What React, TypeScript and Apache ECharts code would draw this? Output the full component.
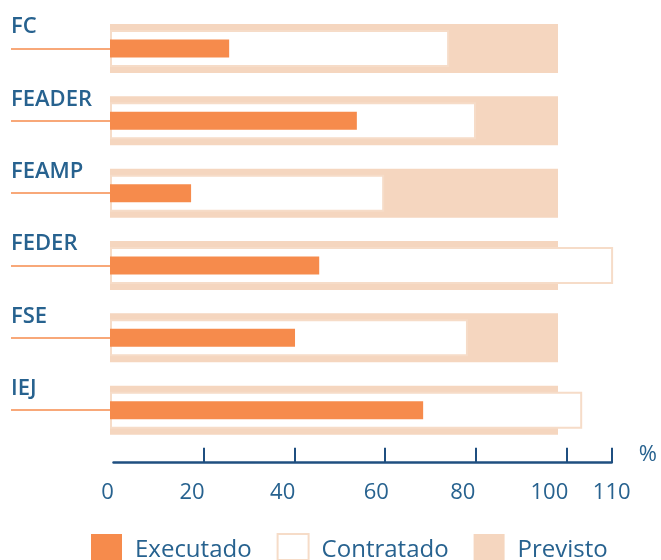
import React, { useEffect, useRef } from "react";
import * as echarts from "echarts";

const categories = ["FC", "FEADER", "FEAMP", "FEDER", "FSE", "IEJ"];
const previsto = [100, 100, 100, 100, 100, 100];
const contratado = [75.7, 81.7, 61.2, 112.3, 79.9, 105.4];
const executado = [26.6, 55.1, 18.1, 46.7, 41.3, 69.9];
const axisLabels = [0, 20, 40, 60, 80, 100, 110];
const axisTicks = [20, 40, 60, 80, 100, 110];

const BLUE = "#27628f";
const NAVY = "#1f4f80";
const ORANGE = "#f68b4c";
const PEACH = "#f5d6bf";
const FONT = "Open Sans";

const labelShift: Record<number, number> = { 0: 12, 20: 24, 40: 24, 60: 18, 80: 26, 100: 34, 110: 0 };

export default function App() {
  const ref = useRef<HTMLDivElement>(null);
  useEffect(() => {
    if (!ref.current) return;
    const chart = echarts.init(ref.current, null, { renderer: "svg" });
    const rich: Record<string, any> = {};
    axisLabels.forEach((v) => {
      rich["t" + v] = { fontSize: 22, color: BLUE, fontFamily: FONT, padding: [0, labelShift[v], 0, 0] };
    });
    const catAxis = (show: boolean) => ({
      type: "category",
      gridIndex: 0,
      data: categories,
      inverse: true,
      show,
      axisLine: { show: false },
      axisTick: { show, length: 99, alignWithLabel: true, lineStyle: { color: ORANGE, width: 1.5 } },
      axisLabel: {
        show,
        align: "left",
        margin: 99,
        verticalAlign: "bottom",
        lineHeight: 48,
        fontSize: 22,
        fontWeight: 600,
        color: BLUE,
        fontFamily: FONT,
      },
    });
    chart.setOption({
      animation: false,
      textStyle: { fontFamily: FONT },
      grid: [
        { left: 110, right: 13.4, top: 12.3, bottom: 113.7 },
        { left: 113.5, right: 49.3, top: 440, bottom: 97.3 },
      ],
      xAxis: [
        { type: "value", gridIndex: 0, min: 0, max: 120, show: false },
        {
          type: "value",
          gridIndex: 1,
          min: 0,
          max: 110,
          position: "bottom",
          splitLine: { show: false },
          axisLine: { show: true, lineStyle: { color: NAVY, width: 2.5 } },
          axisTick: { show: true, inside: true, length: 15, customValues: axisTicks, lineStyle: { color: NAVY, width: 2 } },
          axisLabel: {
            margin: 16,
            customValues: axisLabels,
            fontSize: 22,
            color: BLUE,
            fontFamily: FONT,
            formatter: (v: number) => `{t${v}|${v}}`,
            rich,
          },
          name: "%",
          nameLocation: "end",
          nameGap: 27,
          nameTextStyle: { fontSize: 22, color: BLUE, fontFamily: FONT, verticalAlign: "bottom", lineHeight: 22, align: "left" },
        },
      ],
      yAxis: [
        catAxis(true),
        catAxis(false),
        catAxis(false),
        { type: "value", gridIndex: 1, show: false },
      ],
      legend: {
        left: 86,
        top: 528,
        itemWidth: 31,
        itemHeight: 26,
        itemGap: 25,
        icon: "rect",
        data: ["Executado", "Contratado", "Previsto"],
        textStyle: { fontSize: 24, lineHeight: 22, color: BLUE, fontFamily: FONT, padding: [0, 0, 0, 8] },
      },
      series: [
        {
          name: "Previsto",
          type: "bar",
          xAxisIndex: 0,
          yAxisIndex: 0,
          data: previsto,
          barWidth: 49,
          itemStyle: { color: PEACH },
        },
        {
          name: "Contratado",
          type: "bar",
          xAxisIndex: 0,
          yAxisIndex: 1,
          data: contratado,
          barWidth: 37,
          itemStyle: { color: "#ffffff", borderColor: "#f6dcc8", borderWidth: 2 },
        },
        {
          name: "Executado",
          type: "bar",
          xAxisIndex: 0,
          yAxisIndex: 2,
          data: executado,
          barWidth: 18,
          itemStyle: { color: ORANGE },
        },
      ],
    });
    return () => chart.dispose();
  }, []);
  return <div ref={ref} style={{ position: "fixed", left: 0, top: 0, width: 661, height: 560 }} />;
}
